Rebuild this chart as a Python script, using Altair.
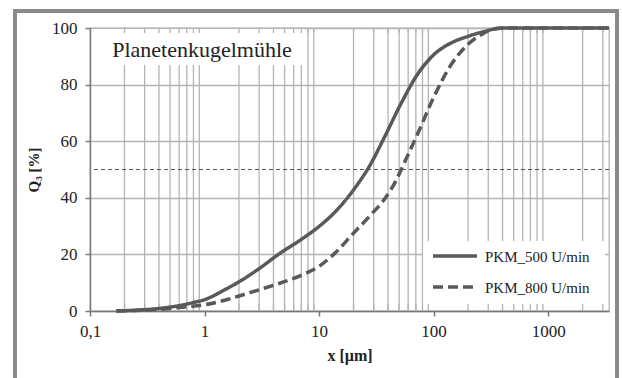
import altair as alt
import pandas as pd

# ---------------- data ----------------
series = ["PKM_500 U/min", "PKM_800 U/min"]

x500 = [0.17, 0.25, 0.4, 0.6, 0.8, 1, 1.5, 2, 3, 4.6, 7, 10, 13.4, 20, 28, 37, 51.5,
        72, 100, 142, 198, 278, 360, 450, 3400]
q500 = [0, 0.3, 0.9, 1.9, 3.0, 4.0, 7.5, 10.3, 15, 20.5, 25.3, 29.9, 34.5, 42.8, 51.7,
        61.2, 73, 83.5, 90.5, 94.7, 97, 98.8, 99.8, 100, 100]

x800 = [0.17, 0.3, 0.5, 0.7, 1, 1.5, 2, 3, 4.6, 6.9, 10, 13.4, 20, 27.6, 38, 46.6, 55,
        72, 101, 142, 198, 260, 316, 400, 3400]
q800 = [0, 0.3, 0.9, 1.5, 2.2, 3.8, 5.3, 7.5, 9.9, 12.5, 15.8, 20, 27.5, 33.5, 40, 45.8,
        52, 62.3, 75.8, 87, 94.1, 97.6, 99.4, 100, 100]

x_grid = [0.2, 0.3, 0.4, 0.5, 0.6, 0.7, 0.8, 0.9,
          2, 3, 4, 5, 6, 7, 8, 9,
          20, 30, 40, 50, 60, 70, 80, 90,
          200, 300, 400, 500, 600, 700, 800, 900,
          2000, 3000]
x_major = [0.1, 1, 10, 100, 1000]
y_ticks = [0, 20, 40, 60, 80, 100]
ref_level = [50]
box_title = "Planetenkugelmühle"

curves = pd.DataFrame({
    "x": x500 + x800,
    "q": q500 + q800,
    "s": [series[0]] * len(x500) + [series[1]] * len(x800),
})
grid_df = pd.DataFrame({"x": x_grid})
ref_df = pd.DataFrame({"q": ref_level})
one = pd.DataFrame({"a": [0]})

# ---------------- style ----------------
FONT = "Liberation Serif"
W, H = 519, 283
LINE = "#595959"
GRID = "#b4b4b4"
AXIS = "#7a7a7a"
TXT = "#222222"

xs = alt.Scale(type="log", domain=[0.1, 3400], nice=False)
ys = alt.Scale(domain=[0, 100], nice=False)

x_axis = alt.Axis(values=x_major, grid=False, title="x [µm]",
                  labelExpr="replace(toString(datum.value), '.', ',')",
                  tickSize=5, tickColor=AXIS, tickWidth=1.5,
                  domainColor=AXIS, domainWidth=1.5,
                  labelFont=FONT, labelFontSize=17, labelColor=TXT,
                  labelPadding=7, labelFlush=False,
                  titleFont=FONT, titleFontSize=16, titleFontWeight="bold",
                  titleColor=TXT, titlePadding=8)
y_axis = alt.Axis(values=y_ticks, grid=True, gridColor=GRID, gridWidth=1.3,
                  title="Q₃ [%]",
                  tickSize=5, tickColor=AXIS, tickWidth=1.5,
                  domainColor=AXIS, domainWidth=1.5,
                  labelFont=FONT, labelFontSize=17, labelColor=TXT,
                  labelPadding=8,
                  titleFont=FONT, titleFontSize=15, titleFontWeight="bold",
                  titleColor=TXT, titlePadding=10)

X = lambda: alt.X("x:Q", scale=xs, axis=x_axis, title="x [µm]")
Y = lambda: alt.Y("q:Q", scale=ys, axis=y_axis, title="Q₃ [%]")

grid = alt.Chart(grid_df).mark_rule(color=GRID, strokeWidth=1.3).encode(
    x=X(), y=alt.value(0), y2=alt.value(H),
)

ref = alt.Chart(ref_df).mark_rule(color="#555555", strokeWidth=1.2, strokeDash=[4, 3]).encode(
    y=Y(), x=alt.value(4), x2=alt.value(W),
)

# text box (white background) top-left
tbox = alt.Chart(one).mark_rect(fill="white").encode(
    x=alt.value(2), x2=alt.value(215), y=alt.value(1), y2=alt.value(37)
)
# legend box bottom-right
lbox = alt.Chart(one).mark_rect(fill="white").encode(
    x=alt.value(333), x2=alt.value(515), y=alt.value(213), y2=alt.value(H - 1)
)

# minor tick marks inside boxes (top and bottom)
tick_top = alt.Chart(grid_df).mark_rule(color=GRID, strokeWidth=1.3).encode(
    x=X(), y=alt.value(0), y2=alt.value(5)
)
tick_bot = alt.Chart(grid_df).mark_rule(color=GRID, strokeWidth=1.3).encode(
    x=X(), y=alt.value(H - 7), y2=alt.value(H)
)

lines = alt.Chart(curves).mark_line(color=LINE, strokeWidth=3.5, interpolate="monotone").encode(
    x=X(), y=Y(),
    strokeDash=alt.StrokeDash("s:N", scale=alt.Scale(domain=series, range=[[1, 0], [10, 5]]),
                              legend=None),
)

title_txt = alt.Chart(one).mark_text(
    text=box_title, font=FONT, fontSize=22, color=TXT, align="center", baseline="alphabetic"
).encode(x=alt.value(112), y=alt.value(29))

leg1 = alt.Chart(one).mark_rule(color=LINE, strokeWidth=3.5).encode(
    x=alt.value(343), x2=alt.value(387), y=alt.value(228))
leg2 = alt.Chart(one).mark_rule(color=LINE, strokeWidth=3.5, strokeDash=[10, 5]).encode(
    x=alt.value(343), x2=alt.value(387), y=alt.value(259))
legt1 = alt.Chart(one).mark_text(text=series[0], font=FONT, fontSize=15, color=TXT,
                                 align="left", baseline="middle").encode(
    x=alt.value(395), y=alt.value(229))
legt2 = alt.Chart(one).mark_text(text=series[1], font=FONT, fontSize=15, color=TXT,
                                 align="left", baseline="middle").encode(
    x=alt.value(395), y=alt.value(260))

border = alt.Chart(one).mark_rect(fill=None, stroke="#8a8a8a", strokeWidth=4).encode(
    x=alt.value(-75), x2=alt.value(527), y=alt.value(-17), y2=alt.value(372)
)

chart = alt.layer(
    grid, ref, tbox, lbox, tick_top, tick_bot, lines, title_txt,
    leg1, leg2, legt1, legt2, border
).properties(
    width=W, height=H,
    autosize=alt.AutoSizeParams(type="none"),
    padding={"left": 90, "top": 28, "right": 13, "bottom": 67},
    background="white",
).configure_view(stroke=GRID, strokeWidth=1.3)

chart.save("out.html", embed_options={"renderer": "svg", "actions": False})
